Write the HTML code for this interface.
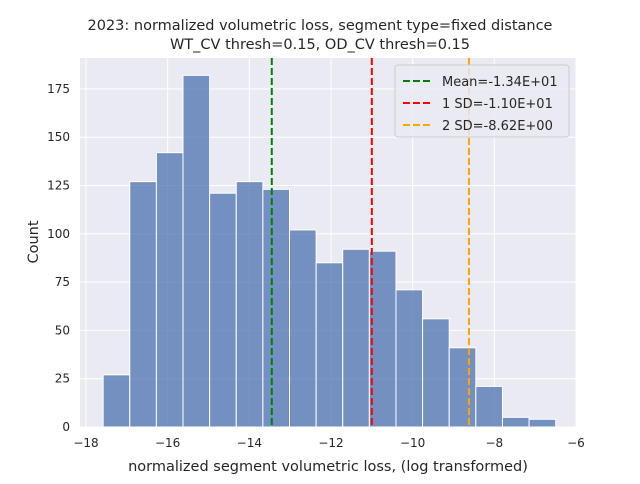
<!DOCTYPE html>
<html><head><meta charset="utf-8"><style>
body{margin:0;background:#fff;font-family:"DejaVu Sans","Liberation Sans",sans-serif}
svg text{font-family:"DejaVu Sans","Liberation Sans",sans-serif;fill:#262626}
</style></head><body>
<svg id="c" width="640" height="480" xmlns="http://www.w3.org/2000/svg">
<rect width="640" height="480" fill="#fff"/>
<rect x="80" y="58" width="496" height="369" fill="#eaeaf2"/>
<g id="grid"></g><g id="bars"></g><g id="vlines"></g><g id="ticks"></g>
<text x="320" y="30" font-size="14.5" text-anchor="middle">2023: normalized volumetric loss, segment type=fixed distance</text>
<text x="320" y="49" font-size="14.5" text-anchor="middle">WT_CV thresh=0.15, OD_CV thresh=0.15</text>
<text x="328" y="471" font-size="14.5" text-anchor="middle">normalized segment volumetric loss, (log transformed)</text>
<text transform="translate(38,242) rotate(-90)" font-size="14.5" text-anchor="middle">Count</text>
<g>
<rect x="395" y="65" width="174" height="72" rx="3" fill="#eaeaf2" stroke="#ccc" fill-opacity="0.8"/>
<g id="leg"></g>
</g>
</svg>
<script>
const binStart=-17.58, binWidth=0.652;
const counts=[27,127,142,182,121,127,123,102,85,92,91,71,56,41,21,5,4];
const xTicks=[-18,-16,-14,-12,-10,-8,-6];
const yTicks=[0,25,50,75,100,125,150,175];
const lineVals=[-13.45,-11.0,-8.62];
const lineLabels=["Mean=-1.34E+01","1 SD=-1.10E+01","2 SD=-8.62E+00"];
const lineColors=["green","red","orange"];
const X=v=>86+(v+18)*40.83, Y=v=>427-v*1.932;
const NS="http://www.w3.org/2000/svg";
function mk(p,t,a){const e=document.createElementNS(NS,t);for(const k in a)e.setAttribute(k,a[k]);document.getElementById(p).appendChild(e);return e;}
xTicks.forEach(t=>{const l=mk('grid','line',{x1:X(t),x2:X(t),y1:58,y2:427,stroke:'#fff','stroke-width':1});

const tx=mk('ticks','text',{x:X(t),y:447,'font-size':12,'text-anchor':'middle'});tx.textContent='−'+Math.abs(t);
});
yTicks.forEach(t=>{const l=mk('grid','line',{x1:80,x2:576,y1:Y(t),y2:Y(t),stroke:'#fff','stroke-width':1});

const tx=mk('ticks','text',{x:70,y:Y(t)+4,'font-size':12,'text-anchor':'end'});tx.textContent=t;
});
counts.forEach((c,i)=>{const x0=X(binStart+i*binWidth),x1=X(binStart+(i+1)*binWidth);
const r=mk('bars','rect',{x:x0,y:Y(c),width:x1-x0,height:Y(0)-Y(c),fill:'#4c72b0','fill-opacity':0.75,stroke:'#fff','stroke-width':1});
});
lineVals.forEach((v,i)=>{const l=mk('vlines','line',{x1:X(v),x2:X(v),y1:58,y2:427,stroke:lineColors[i],'stroke-width':2,'stroke-dasharray':'7,3'});

const y=81+i*22;
const s=mk('leg','line',{x1:403,x2:431,y1:y,y2:y,stroke:lineColors[i],'stroke-width':2,'stroke-dasharray':'7,3'});

const t=mk('leg','text',{x:442,y:y+5,'font-size':13});t.textContent=lineLabels[i];
});
</script>
</body></html>
